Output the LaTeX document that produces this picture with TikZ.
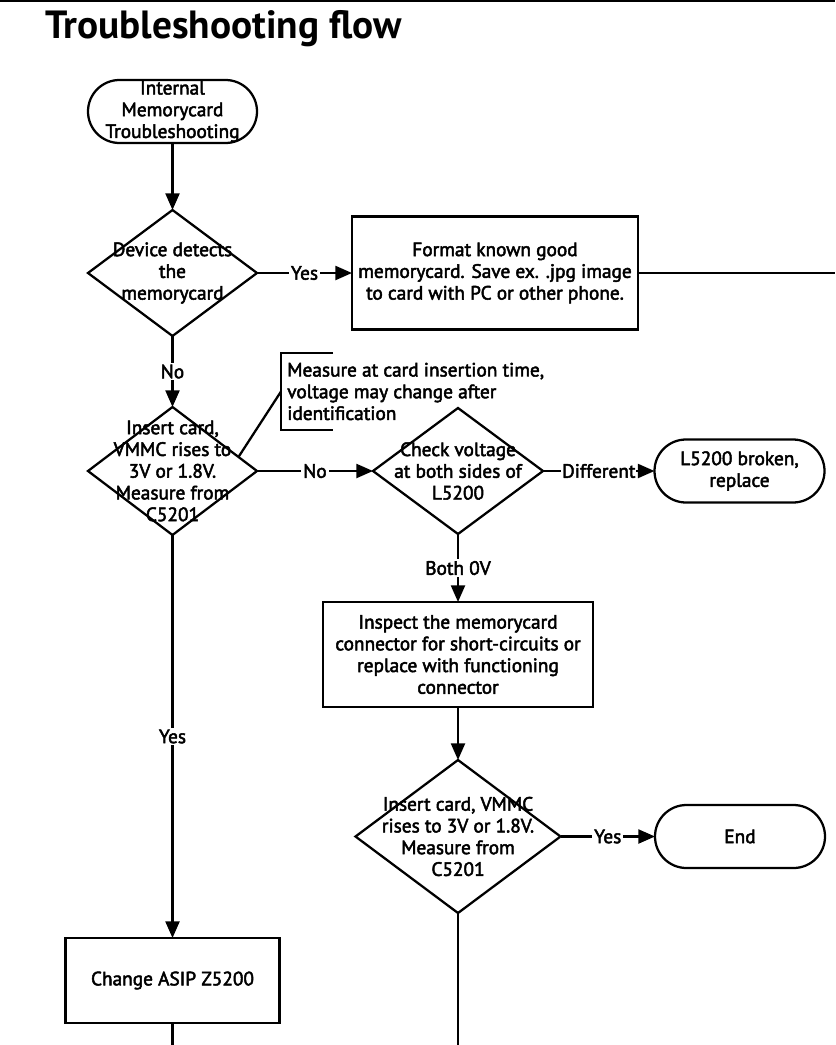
\documentclass[tikz,border=0pt]{standalone}
\usepackage{fontspec}
\setmainfont{PT Sans}[UprightFeatures={FakeBold=2.5}]
\usetikzlibrary{shapes.geometric,arrows.meta,calc}
\newcommand\fs{\fontsize{14.5pt}{16.3pt}\selectfont}
\begin{document}
\begin{tikzpicture}[x=0.75pt,y=-0.75pt,
  ln/.style={line width=1.7pt},
  flow/.style={ln,-{Triangle[length=12.5pt,width=10.5pt]}},
  box/.style={draw,ln,rectangle,inner sep=0pt,outer sep=0pt,align=center,font=\fs},
  term/.style={box,rounded corners=23.6pt},
  dec/.style={draw,ln,diamond,inner sep=0pt,outer sep=0pt},
  dectext/.style={align=center,font=\fs,inner sep=0pt},
  lbl/.style={fill=white,inner sep=1.5pt,font=\fs}]
\useasboundingbox (0,0) rectangle (835,1045);
\fill[white] (0,0) rectangle (835,1045);
\coordinate (tl) at (0,1);
\coordinate (tr) at (835,1);
\draw[ln] (tl) -- (tr);
\node[anchor=west,inner sep=0pt,font=\fontsize{29.5pt}{32pt}\selectfont\bfseries] (title) at (45,29) {Troubleshooting flow};

\node[term,minimum width=126.75pt,minimum height=47.25pt] (start) at (172.5,111.5) {Internal\\Memorycard\\Troubleshooting};
\node[dec,minimum width=126.75pt,minimum height=94.5pt,label={[dectext]center:Device detects\\the\\memorycard}] (d1) at (172.5,273) {};
\node[box,minimum width=214.5pt,minimum height=84.75pt] (b1) at (495,273) {Format known good\\memorycard. Save ex. .jpg image\\to card with PC or other phone.};
\coordinate (r1) at (835,273);
\node[dec,minimum width=126.75pt,minimum height=96pt,label={[dectext]center:Insert card,\\VMMC rises to\\3V or 1.8V.\\Measure from\\C5201}] (d2) at (172.5,471) {};
\node[anchor=west,align=left,font=\fs,inner sep=0pt,minimum height=57.75pt] (note) at (281,391.5) {\hspace{4.5pt}Measure at card insertion time,\\\hspace{4.5pt}voltage may change after\\\hspace{4.5pt}identification};
\node[dec,minimum width=127.5pt,minimum height=94.5pt,label={[dectext]center:Check voltage\\at both sides of\\L5200}] (d3) at (458,471) {};
\node[term,minimum width=127.5pt,minimum height=47.25pt] (t2) at (739.5,471) {L5200 broken,\\replace};
\node[box,minimum width=202.5pt,minimum height=78.75pt] (b2) at (458,654.5) {Inspect the memorycard\\connector for short-circuits or\\replace with functioning\\connector};
\node[dec,minimum width=153.75pt,minimum height=114.75pt,label={[dectext]center:Insert card, VMMC\\rises to 3V or 1.8V.\\Measure from\\C5201}] (d4) at (458,836.5) {};
\node[term,minimum width=127.5pt,minimum height=47.25pt] (end) at (740,836.5) {End};
\node[box,minimum width=160.5pt,minimum height=63.75pt] (b3) at (172.5,980.5) {Change ASIP Z5200};
\coordinate (bot1) at (172.5,1046);
\coordinate (bot2) at (458,1046);

\draw[flow] (start) -- (d1);
\draw[flow] (d1.east) -- node[lbl]{Yes} (b1.west);
\draw[ln] (b1.east) -- (r1);
\draw[flow] (d1) -- node[lbl]{No} (d2);
\draw[flow] (d2.east) -- node[lbl]{No} (d3.west);
\draw[flow] (d3.east) -- node[lbl,inner sep=0.5pt]{Different} (t2.west);
\draw[flow] (d3) -- node[lbl]{Both 0V} (b2);
\draw[flow] (b2) -- (d4);
\draw[flow] (d4.east) -- node[lbl]{Yes} (end.west);
\draw[ln] (d4) -- (bot2);
\draw[flow] (d2) -- node[lbl]{Yes} (b3);
\draw[ln] (b3) -- (bot1);
\draw[ln] ($(note.north west)+(52,0)$) -- (note.north west) -- (note.south west) -- ++(52,0);
\draw[ln] (note.west) -- (d2.12);
\end{tikzpicture}
\end{document}
